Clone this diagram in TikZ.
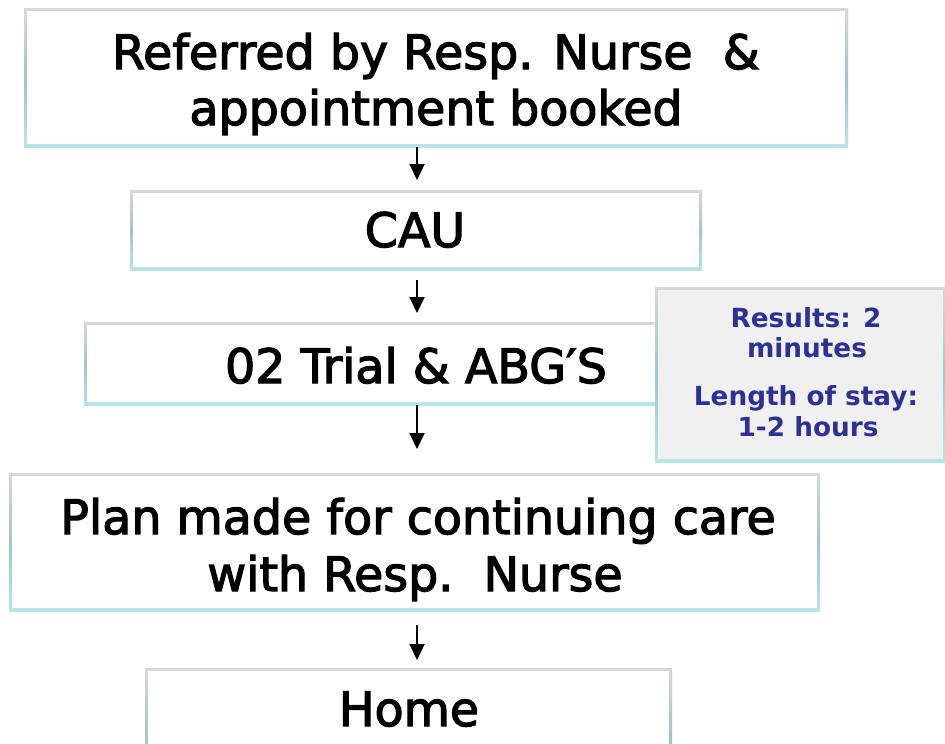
\documentclass[tikz,border=0pt]{standalone}
\usepackage{fontspec}
\setmainfont{DejaVu Sans}
\newfontfamily\boxfont[FakeBold=2.6]{DejaVu Sans}
\usetikzlibrary{arrows.meta}
\definecolor{edgetop}{HTML}{D8D8D8}
\definecolor{edgemid}{HTML}{A3C4C7}
\definecolor{edgebot}{HTML}{B9E4E6}
\definecolor{sidefill}{HTML}{F0F0F0}
\definecolor{sidetext}{HTML}{2E3192}
\tikzset{
  flowbox/.style={rectangle, inner sep=0pt, anchor=north west,
    top color=edgetop, bottom color=edgebot, middle color=edgemid,
    path picture={\fill[white] ([shift={(3pt,-3pt)}]path picture bounding box.north west)
      rectangle ([shift={(-3pt,3pt)}]path picture bounding box.south east);}},
  sidebox/.style={rectangle, inner sep=0pt, anchor=north west,
    top color=edgetop, bottom color=edgebot, middle color=edgemid,
    path picture={\fill[sidefill] ([shift={(3pt,-3pt)}]path picture bounding box.north west)
      rectangle ([shift={(-3pt,3pt)}]path picture bounding box.south east);}},
  boxtext/.style={anchor=base, inner sep=0pt, text=black,
    font=\boxfont\fontsize{47.5}{56}\selectfont},
  sidetxt/.style={anchor=base, inner sep=0pt, text=sidetext,
    font=\bfseries\fontsize{26.3}{30}\selectfont},
  flowarrow/.style={-{Triangle[length=16pt,width=15pt]}, line width=2pt, black}
}
\begin{document}
\begin{tikzpicture}[x=1pt,y=-1pt]
\useasboundingbox (0,0) rectangle (945,744);
\clip (0,0) rectangle (945,744);
% boxes
\node[flowbox, minimum width=824pt, minimum height=139pt] (b1) at (24,8) {};
\node[flowbox, minimum width=572pt, minimum height=80pt] (b2) at (130,190) {};
\node[flowbox, minimum width=666pt, minimum height=83pt] (b3) at (84,322) {};
\node[sidebox, minimum width=291pt, minimum height=175pt] (sb) at (655,287) {};
\node[flowbox, minimum width=811pt, minimum height=138pt] (b4) at (9,473) {};
\node[flowbox, minimum width=527pt, minimum height=140pt] (b5) at (145,668) {};
% texts
\node[boxtext] (t1a) at (436,69) {Referred by Resp. Nurse\ \ \&};
\node[boxtext] (t1b) at (436,125) {appointment booked};
\node[boxtext] (t2) at (415,247) {CAU};
\node[boxtext] (t3) at (416,383) {02 Trial \& ABG′S};
\node[sidetxt] (s1) at (806,327) {Results: 2};
\node[sidetxt] (s2) at (807,357) {minutes};
\node[sidetxt] (s3) at (806,405) {Length of stay:};
\node[sidetxt] (s4) at (808,436) {1-2 hours};
\node[boxtext] (t4a) at (418,534) {Plan made for continuing care};
\node[boxtext] (t4b) at (415,591) {with Resp.\ \ Nurse};
\node[boxtext] (t5) at (409,726) {Home};
% arrows
\coordinate (a2s) at (417,280);
\coordinate (a4s) at (417,625);
\draw[flowarrow] (b1.south -| 417,0) -- ([yshift=10pt]b2.north -| 417,0);
\draw[flowarrow] (a2s) -- ([yshift=9pt]b3.north -| 417,0);
\draw[flowarrow] (b3.south -| 417,0) -- ([yshift=24pt]b4.north -| 417,0);
\draw[flowarrow] (a4s) -- ([yshift=8pt]b5.north -| 417,0);
\end{tikzpicture}
\end{document}
